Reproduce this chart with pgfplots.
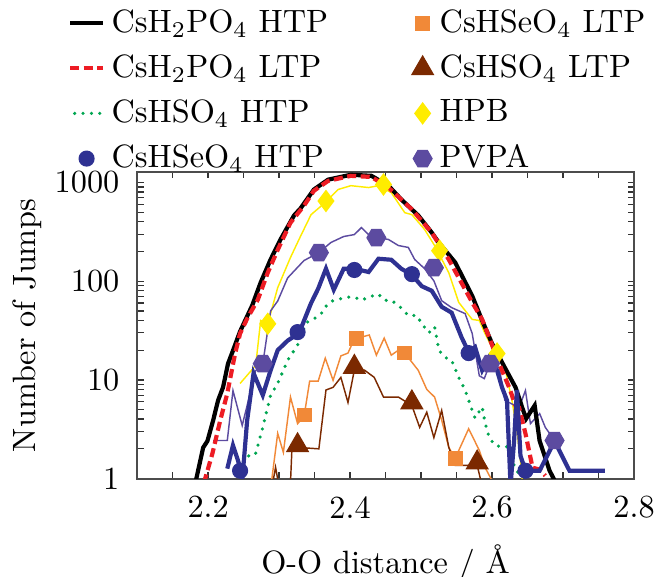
\documentclass[border=0pt]{standalone}
\usepackage{pgfplots}
\pgfplotsset{compat=1.18}
\definecolor{redC}{RGB}{237,28,36}
\definecolor{greenC}{RGB}{0,166,81}
\definecolor{blueC}{RGB}{46,49,146}
\definecolor{orangeC}{RGB}{241,137,56}
\definecolor{brownC}{RGB}{123,41,0}
\definecolor{yellowC}{RGB}{255,236,0}
\definecolor{purpleC}{RGB}{92,75,160}
\pgfdeclareplotmark{hexagon*}{%
 \pgfpathmoveto{\pgfqpoint{\pgfplotmarksize}{0pt}}%
 \pgfpathlineto{\pgfqpoint{0.5\pgfplotmarksize}{0.866\pgfplotmarksize}}%
 \pgfpathlineto{\pgfqpoint{-0.5\pgfplotmarksize}{0.866\pgfplotmarksize}}%
 \pgfpathlineto{\pgfqpoint{-\pgfplotmarksize}{0pt}}%
 \pgfpathlineto{\pgfqpoint{-0.5\pgfplotmarksize}{-0.866\pgfplotmarksize}}%
 \pgfpathlineto{\pgfqpoint{0.5\pgfplotmarksize}{-0.866\pgfplotmarksize}}%
 \pgfpathclose\pgfusepathqfillstroke}
\begin{document}
\begin{tikzpicture}
\begin{axis}[
 scale only axis, width=154pt, height=95pt,
 ymode=log,
 xmin=2.1, xmax=2.8, ymin=1, ymax=1280,
 xtick={2.15,2.2,2.25,2.3,2.35,2.4,2.45,2.5,2.55,2.6,2.65,2.7,2.75,2.8},
 xticklabels={,2.2,,,,2.4,,,,2.6,,,,2.8},
 ytick={1,10,100,1000}, yticklabels={1,10,100,1000},
 major tick length=2pt, minor tick length=2pt,
 tick style={black!80, line width=0.4pt},
 axis line style={black!70, line width=0.6pt},
 xticklabel style={yshift=-2pt},
 yticklabel style={xshift=-2pt},
 xlabel={O-O distance / \AA},
 xlabel style={at={(axis description cs:0.5,-0.31)}, anchor=base},
 ylabel={Number of Jumps},
 ylabel style={at={(axis description cs:-0.222,0.5)}, anchor=center},
 legend columns=2,
 legend style={draw=none, fill=none, at={(-0.16,1.574)}, anchor=north west,
   /tikz/every even column/.append style={column sep=24pt},
   row sep=1.4pt},
 legend cell align=left,
]
% thin lines
\addplot[yellowC, line width=0.45pt, forget plot] coordinates {
(2.245,9.2)(2.267,14)(2.274,40)(2.284,37)(2.298,86)(2.316,174)(2.330,284)(2.345,473)
(2.363,610)(2.383,850)(2.401,930)(2.426,890)(2.440,930)(2.458,790)(2.477,495)(2.487,473)
(2.505,334)(2.519,230)(2.539,122)(2.553,61)(2.572,41)(2.582,40)(2.590,29.5)(2.600,21.2)
(2.610,18.5)(2.618,13.3)(2.628,6.2)(2.635,3.06)(2.640,1.5)(2.643,0.9)};
\addplot[purpleC, line width=0.45pt, forget plot] coordinates {
(2.207,2.43)(2.227,2.43)(2.235,7.8)(2.248,3.45)(2.267,12.4)(2.277,14.6)(2.288,50)(2.298,63)
(2.312,108)(2.335,162)(2.356,195)(2.373,247)(2.391,284)(2.406,297)(2.416,350)(2.426,297)
(2.440,276)(2.454,265)(2.468,230)(2.482,220)(2.491,166)(2.505,134)(2.518,101)(2.529,63.5)
(2.543,54)(2.562,47)(2.572,29.5)(2.582,11)(2.589,10.3)(2.597,14.6)(2.610,13.3)(2.618,6.2)
(2.638,5.25)(2.647,7.8)(2.654,3.6)(2.667,4.55)(2.675,3.3)(2.688,2.43)};
\addplot[orangeC, line width=0.45pt, forget plot] coordinates {
(2.289,0.9)(2.298,2.87)(2.306,1.84)(2.316,6.7)(2.326,3.6)(2.335,4.2)(2.343,9.7)(2.355,9.7)
(2.365,16.6)(2.376,9.9)(2.387,17.5)(2.397,18.7)(2.406,26)(2.427,28.5)(2.437,17.8)(2.448,26.5)
(2.458,17.8)(2.468,20)(2.477,18.7)(2.496,12.5)(2.508,8)(2.519,6.7)(2.529,3.9)(2.539,2.07)
(2.548,1.6)(2.567,3.2)(2.582,1.93)(2.590,1.3)(2.600,0.95)};
\addplot[brownC, line width=0.45pt, forget plot] coordinates {
(2.291,0.9)(2.295,1.3)(2.299,0.9)(2.316,0.9)(2.318,1.97)(2.326,2.07)(2.356,2.0)(2.366,7.9)
(2.376,8.4)(2.387,10.6)(2.397,5.9)(2.406,12.6)(2.420,12.6)(2.434,10.6)(2.447,6.7)(2.468,6.7)
(2.487,5.5)(2.498,3.3)(2.508,4.7)(2.518,2.6)(2.529,4.9)(2.539,2.07)(2.548,1.36)(2.562,1.36)
(2.579,1.36)(2.585,0.9)};
% thick lines
\addplot[black, line width=1.3pt, forget plot] coordinates {
(2.182,0.9)(2.193,2.06)(2.199,2.4)(2.207,3.87)(2.214,6.2)(2.221,8.4)(2.228,14.6)(2.235,19.8)
(2.245,31)(2.262,56.6)(2.274,97)(2.288,166)(2.302,265)(2.321,464)(2.330,545)(2.349,850)
(2.369,1070)(2.401,1200)(2.430,1170)(2.454,930)(2.472,675)(2.496,464)(2.515,311)(2.525,246)
(2.548,155)(2.572,71)(2.586,40)(2.600,23.3)(2.618,13.3)(2.633,8.4)(2.643,5.1)(2.648,4.05)
(2.660,5.5)(2.667,2.4)(2.681,1.2)(2.690,0.9)};
\addplot[redC, line width=1.3pt, dash pattern=on 2.8pt off 1.4pt, forget plot] coordinates {
(2.194,0.9)(2.206,1.79)(2.217,3.87)(2.227,7.3)(2.238,18.5)(2.245,29.5)(2.255,41.8)(2.270,65)
(2.284,122)(2.298,208)(2.316,392)(2.335,582)(2.349,826)(2.369,1040)(2.401,1170)(2.430,1140)
(2.454,890)(2.487,534)(2.515,311)(2.539,166)(2.572,61)(2.586,41)(2.596,26.8)(2.610,14.6)
(2.624,8.4)(2.633,5.5)(2.638,5.25)(2.647,2.86)(2.657,1.29)(2.667,1.23)(2.675,1.07)};
\addplot[greenC, line width=1.1pt, dash pattern=on 0pt off 2.6pt, line cap=round, forget plot] coordinates {
(2.250,1.45)(2.260,1.8)(2.267,1.8)(2.277,3.3)(2.288,7)(2.298,9.2)(2.312,15.8)(2.326,22.5)
(2.338,38)(2.349,41.5)(2.359,46.5)(2.369,60)(2.377,64)(2.397,69)(2.406,69)(2.416,64)
(2.426,69)(2.440,74)(2.448,64)(2.458,64)(2.468,57)(2.482,45)(2.494,45)(2.501,37)(2.511,30)
(2.519,34.5)(2.525,20)(2.533,17)(2.543,15.8)(2.553,10.6)(2.562,7.9)(2.572,4.9)(2.576,4.1)
(2.586,5.3)(2.590,3.7)(2.596,2.6)(2.604,2.17)(2.617,2.07)(2.628,2.17)(2.631,1.3)(2.638,1.12)};
\addplot[blueC, line width=1.3pt, forget plot] coordinates {
(2.227,1.26)(2.235,2.17)(2.243,1.45)(2.248,0.95)(2.255,3.9)(2.264,11.7)(2.277,7)(2.288,12.5)
(2.298,20)(2.312,25)(2.328,29.7)(2.345,60)(2.355,84)(2.366,134)(2.377,82)(2.391,134)
(2.406,134)(2.426,124)(2.440,169)(2.458,165)(2.472,134)(2.487,116)(2.501,89)(2.515,80)
(2.529,55)(2.543,48)(2.557,27)(2.567,19.1)(2.576,21.5)(2.586,12.5)(2.596,17)(2.607,12.5)
(2.614,8.4)(2.621,6.2)(2.626,0.85)(2.631,2.4)(2.635,7.9)(2.640,1.7)(2.647,1.2)(2.667,1.2)
(2.688,2.4)(2.709,1.2)(2.759,1.2)};
% markers
\addplot[only marks, mark=diamond*, mark size=3.2pt, color=yellowC, forget plot] coordinates {
(2.284,37)(2.366,650)(2.447,955)(2.526,204)(2.607,18.5)};
\addplot[only marks, mark=hexagon*, mark size=2.9pt, color=purpleC, forget plot] coordinates {
(2.277,14.6)(2.356,195)(2.437,276)(2.518,137)(2.597,14.6)(2.688,2.43)};
\addplot[only marks, mark=*, mark size=2.3pt, color=blueC, forget plot] coordinates {
(2.245,1.2)(2.326,30.5)(2.406,130)(2.487,118)(2.567,18.7)(2.647,1.2)};
\addplot[only marks, mark=square*, mark size=2.1pt, color=orangeC, forget plot] coordinates {
(2.336,4.4)(2.409,26.5)(2.477,18.7)(2.548,1.6)};
\addplot[only marks, mark=triangle*, mark size=3.8pt, color=brownC, forget plot] coordinates {
(2.326,2.17)(2.406,13.5)(2.487,5.9)(2.579,1.45)};
% legend
\addlegendimage{legend image code/.code={\draw[black, line width=1.3pt] (0cm,0cm) -- (0.36cm,0cm);}}
\addlegendentry{CsH$_2$PO$_4$ HTP}
\addlegendimage{legend image code/.code={\draw[orangeC] plot[mark=square*, mark size=2.1pt] coordinates {(0.18cm,0cm)};}}
\addlegendentry{CsHSeO$_4$ LTP}
\addlegendimage{legend image code/.code={\draw[redC, line width=1.3pt, dash pattern=on 2.8pt off 1.4pt] (0cm,0cm) -- (0.36cm,0cm);}}
\addlegendentry{CsH$_2$PO$_4$ LTP}
\addlegendimage{legend image code/.code={\draw[brownC] plot[mark=triangle*, mark size=3.8pt] coordinates {(0.18cm,0cm)};}}
\addlegendentry{CsHSO$_4$ LTP}
\addlegendimage{legend image code/.code={\draw[greenC, line width=1.1pt, dash pattern=on 0pt off 2.6pt, line cap=round] (0.05cm,0cm) -- (0.36cm,0cm);}}
\addlegendentry{CsHSO$_4$ HTP}
\addlegendimage{legend image code/.code={\draw[yellowC] plot[mark=diamond*, mark size=3.2pt] coordinates {(0.18cm,0cm)};}}
\addlegendentry{HPB}
\addlegendimage{legend image code/.code={\draw[blueC] plot[mark=*, mark size=2.3pt] coordinates {(0.18cm,0cm)};}}
\addlegendentry{CsHSeO$_4$ HTP}
\addlegendimage{legend image code/.code={\draw[purpleC] plot[mark=hexagon*, mark size=2.9pt] coordinates {(0.18cm,0cm)};}}
\addlegendentry{PVPA}
\end{axis}
\pgfresetboundingbox
\path[use as bounding box] ([shift={(-42.5pt,-30.4pt)}]current axis.south west) rectangle ([shift={(6.8pt,53.3pt)}]current axis.north east);
\end{tikzpicture}
\end{document}
